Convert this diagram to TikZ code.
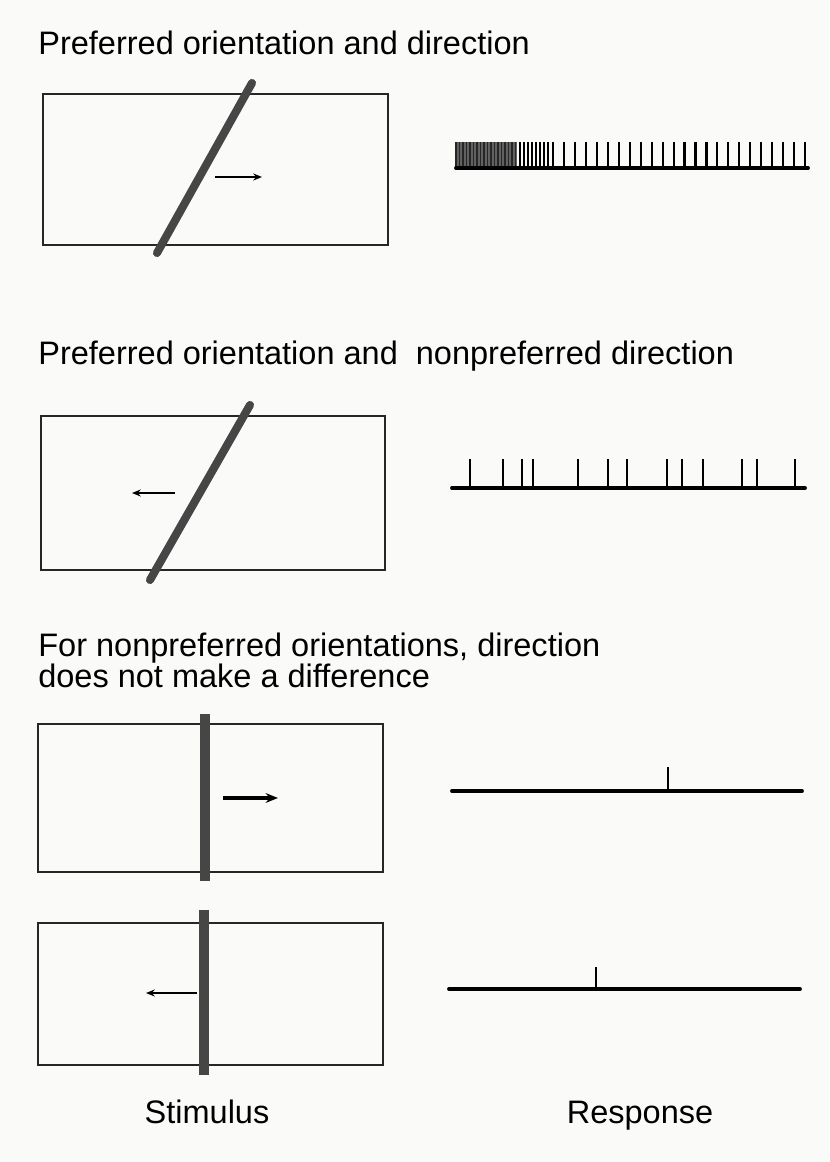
\documentclass[tikz,border=0pt]{standalone}
\usepackage{fontspec}
\setmainfont{Liberation Sans}
\usetikzlibrary{arrows.meta}
\definecolor{paper}{RGB}{250,250,248}
\definecolor{barcol}{RGB}{70,70,70}
\tikzset{
  stimbox/.style={line width=1.3pt,draw=black!85},
  bar/.style={line width=4.6pt,draw=barcol,line cap=round},
  vbar/.style={line width=5.6pt,draw=barcol},
  motion/.style={-{Stealth[length=5pt,width=4pt]},line width=0.9pt},
  trace/.style={line width=2.2pt,line cap=round},
  spike/.style={line width=1.2pt},
  caption/.style={anchor=base west,inner sep=0pt,font=\fontsize{18.5}{22}\selectfont},
  label/.style={anchor=base,inner sep=0pt,font=\fontsize{18.5}{22}\selectfont}
}
\begin{document}
\begin{tikzpicture}[x=0.02cm,y=-0.02cm,>=Stealth]
\fill[paper] (0,0) rectangle (829,1162);
\useasboundingbox (0,0) rectangle (829,1162);
% preferred orientation, preferred direction
\node[caption] (cap1) at (38,55) {Preferred orientation and direction};
\draw[stimbox] (43,94) rectangle (388,245);
\draw[bar] (157,253) -- (252,83);
\draw[motion] (215,177) -- (262,177);
% burst of spikes
\fill[black!62] (456,142) rectangle (517,168);
\foreach \x in {456,459.5,...,517} {
  \draw[spike,line width=0.6pt,black!85] (\x,142) -- (\x,168);
}
\foreach \x in {520,524,...,548} {
  \draw[spike] (\x,142) -- (\x,168);
}
\foreach \x in {553,563.96,...,806} {
  \draw[spike] (\x,142) -- (\x,168);
}
\draw[trace] (456,168) -- (808,168);
% preferred orientation, nonpreferred direction
\node[caption] (cap2) at (38,364) {Preferred orientation and\ \ nonpreferred direction};
\draw[stimbox] (41,416) rectangle (385,570);
\draw[bar] (150,580) -- (250,405);
\draw[motion] (175,493) -- (132,493);
\foreach \x in {470,503,522,533,578,608,627,667,682,703,742,757,795} {
  \draw[spike] (\x,459) -- (\x,488);
}
\draw[trace] (452,488) -- (805,488);
% nonpreferred orientations
\node[caption] (cap3) at (38,656) {For nonpreferred orientations, direction};
\node[caption] (cap4) at (38,687) {does not make a difference};
\draw[stimbox] (38,724) rectangle (383,872);
\draw[vbar] (205,714) -- (205,881);
\draw[motion,line width=1.8pt,-{Stealth[length=7pt,width=5.5pt]}] (223,798) -- (278,798);
\draw[spike,line width=1.4pt] (668,767) -- (668,791);
\draw[trace] (452,791) -- (802,791);
\draw[stimbox] (38,923) rectangle (383,1065);
\draw[vbar] (204,910) -- (204,1075);
\draw[motion,line width=1.2pt] (197,993) -- (146,993);
\draw[spike,line width=1.4pt] (596,967) -- (596,989);
\draw[trace] (449,989) -- (800,989);
% column labels
\node[label] (stim) at (207,1123) {Stimulus};
\node[label] (resp) at (640,1123) {Response};
\end{tikzpicture}
\end{document}
